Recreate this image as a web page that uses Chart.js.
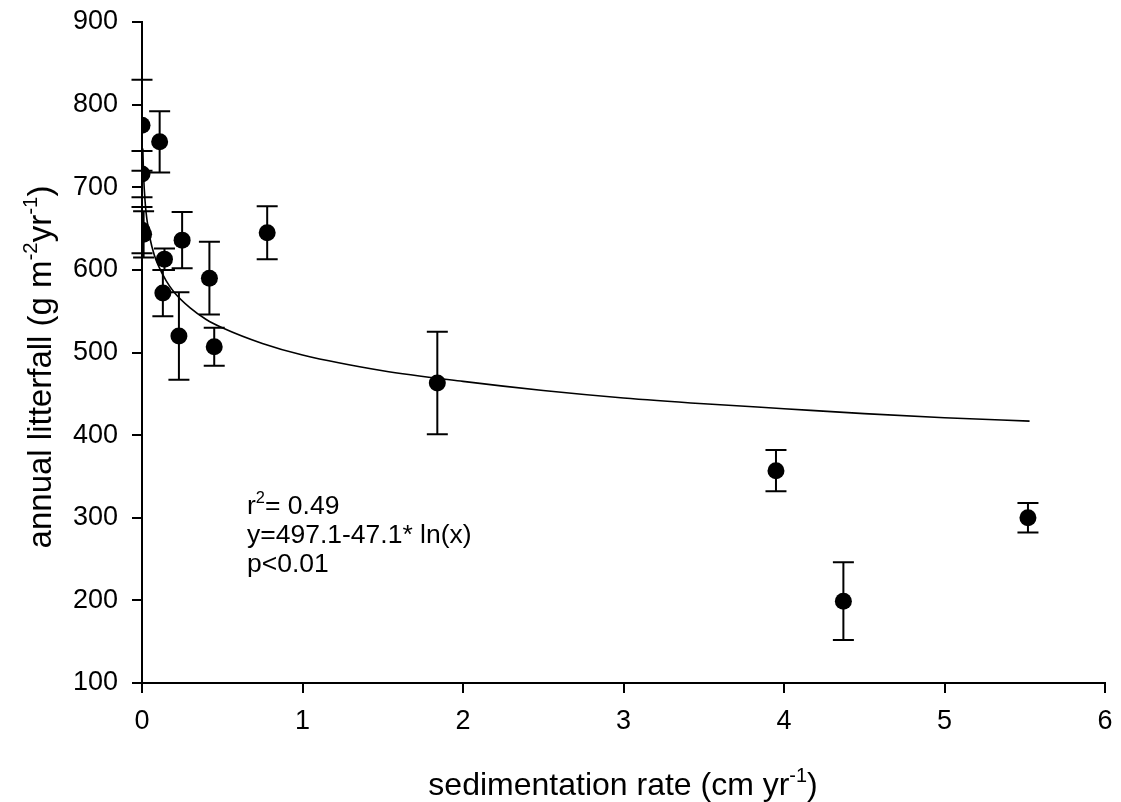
<!DOCTYPE html>
<html>
<head>
<meta charset="utf-8">
<script src="https://cdn.jsdelivr.net/npm/chart.js@4.4.1/dist/chart.umd.min.js"></script>
<style>
  html, body { margin: 0; padding: 0; background: #fff; }
  canvas { display: block; }
</style>
</head>
<body>
<canvas id="chart" width="1121" height="802"></canvas>
<script>
// sedimentation rate (cm/yr) and annual litterfall (g m-2 yr-1)
const rateX = [0.0, 0.0, 0.0, 0.01, 0.11, 0.14, 0.13, 0.23, 0.25, 0.42, 0.45, 0.78, 1.84, 3.95, 4.37, 5.52];
const litterY = [775, 716, 648, 643, 755, 613, 572, 520, 636, 590, 507, 645, 463, 357, 199, 300];
const litterErr = [55, 28, 28, 28, 37, 13, 28, 53, 34, 44, 23, 32, 62, 25, 47, 18];

// fitted log curve as drawn in the figure
const curveX = [0.005, 0.01, 0.02, 0.03, 0.05, 0.075, 0.1, 0.15, 0.2, 0.3, 0.4, 0.5, 0.75, 1, 1.5, 2, 2.5, 3, 3.5, 4, 4.5, 5, 5.53];
const curveY = [747, 714, 681, 662, 638, 619, 606, 587, 573, 554, 540, 530, 511, 497, 478, 465, 454, 445, 438, 432, 426, 421, 417];

const xTicks = [0, 1, 2, 3, 4, 5, 6];
const yTicks = [100, 200, 300, 400, 500, 600, 700, 800, 900];

const FONT = '"Liberation Sans", Arial, sans-serif';

// text with superscript pieces: parts = [[text, isSup], ...]
function richWidth(c, parts, size) {
  let w = 0;
  parts.forEach(p => {
    c.font = (p[1] ? size * 0.62 : size) + 'px ' + FONT;
    w += c.measureText(p[0]).width;
  });
  return w;
}
function drawRich(c, parts, x, y, size) {
  let cx = x;
  parts.forEach(p => {
    const s = p[1] ? size * 0.62 : size;
    c.font = s + 'px ' + FONT;
    c.fillText(p[0], cx, p[1] ? y - size * 0.42 : y);
    cx += c.measureText(p[0]).width;
  });
}

const extras = {
  id: 'extras',
  beforeDatasetsDraw(chart) {
    const c = chart.ctx, xs = chart.scales.x, ys = chart.scales.y;
    c.save();
    c.strokeStyle = '#000';
    c.lineWidth = 2;
    for (let i = 0; i < rateX.length; i++) {
      const px = xs.getPixelForValue(rateX[i]);
      const top = ys.getPixelForValue(litterY[i] + litterErr[i]);
      const bot = ys.getPixelForValue(litterY[i] - litterErr[i]);
      c.beginPath();
      c.moveTo(px, top); c.lineTo(px, bot);
      c.moveTo(px - 10.5, top); c.lineTo(px + 10.5, top);
      c.moveTo(px - 10.5, bot); c.lineTo(px + 10.5, bot);
      c.stroke();
    }
    c.restore();
  },
  afterDraw(chart) {
    const c = chart.ctx;
    c.save();
    c.fillStyle = '#000';
    c.textBaseline = 'alphabetic';
    c.textAlign = 'left';

    // x title
    const xt = [['sedimentation rate (cm yr', false], ['-1', true], [')', false]];
    const xw = richWidth(c, xt, 32);
    drawRich(c, xt, 623 - xw / 2, 795, 32);

    // y title, rotated
    const yt = [['annual litterfall (g m', false], ['-2', true], ['yr', false], ['-1', true], [')', false]];
    const yw = richWidth(c, yt, 33);
    c.save();
    c.translate(51, 367);
    c.rotate(-Math.PI / 2);
    drawRich(c, yt, -yw / 2, 0, 33);
    c.restore();

    // regression note
    drawRich(c, [['r', false], ['2', true], ['= 0.49', false]], 247, 514, 26.5);
    drawRich(c, [['y=497.1-47.1* ln(x)', false]], 247, 543, 26.5);
    drawRich(c, [['p<0.01', false]], 247, 572, 26.5);
    c.restore();
  }
};

new Chart(document.getElementById('chart'), {
  type: 'scatter',
  data: {
    datasets: [
      {
        label: 'litterfall',
        data: rateX.map((x, i) => ({ x: x, y: litterY[i] })),
        pointRadius: 8.5,
        pointHoverRadius: 8.5,
        pointBackgroundColor: '#000',
        pointBorderColor: '#000',
        pointBorderWidth: 0,
        showLine: false,
        order: 1
      },
      {
        label: 'fit',
        type: 'line',
        data: curveX.map((x, i) => ({ x: x, y: curveY[i] })),
        borderColor: '#000',
        borderWidth: 1.6,
        pointRadius: 0,
        fill: false,
        cubicInterpolationMode: 'monotone',
        order: 2
      }
    ]
  },
  options: {
    responsive: false,
    animation: false,
    events: [],
    layout: { padding: { left: 0, top: 22, right: 16, bottom: 0 } },
    plugins: {
      legend: { display: false },
      tooltip: { enabled: false },
      title: { display: false }
    },
    scales: {
      x: {
        type: 'linear',
        min: 0, max: 6,
        afterBuildTicks: s => { s.ticks = xTicks.map(v => ({ value: v })); },
        afterFit: s => { s.height = 119; s.paddingLeft = 0; s.paddingRight = 0; },
        border: { color: '#000', width: 2 },
        grid: { drawOnChartArea: false, drawTicks: true, tickLength: 10, color: '#000', lineWidth: 2 },
        ticks: { color: '#000', padding: 12, font: { family: FONT, size: 27 }, maxRotation: 0 }
      },
      y: {
        type: 'linear',
        min: 100, max: 900,
        afterBuildTicks: s => { s.ticks = yTicks.map(v => ({ value: v })); },
        afterFit: s => { s.width = 142; s.paddingTop = 0; s.paddingBottom = 0; },
        border: { color: '#000', width: 2 },
        grid: { drawOnChartArea: false, drawTicks: true, tickLength: 10, color: '#000', lineWidth: 2 },
        ticks: { color: '#000', padding: 14, font: { family: FONT, size: 27 } }
      }
    }
  },
  plugins: [extras]
});
</script>
</body>
</html>
